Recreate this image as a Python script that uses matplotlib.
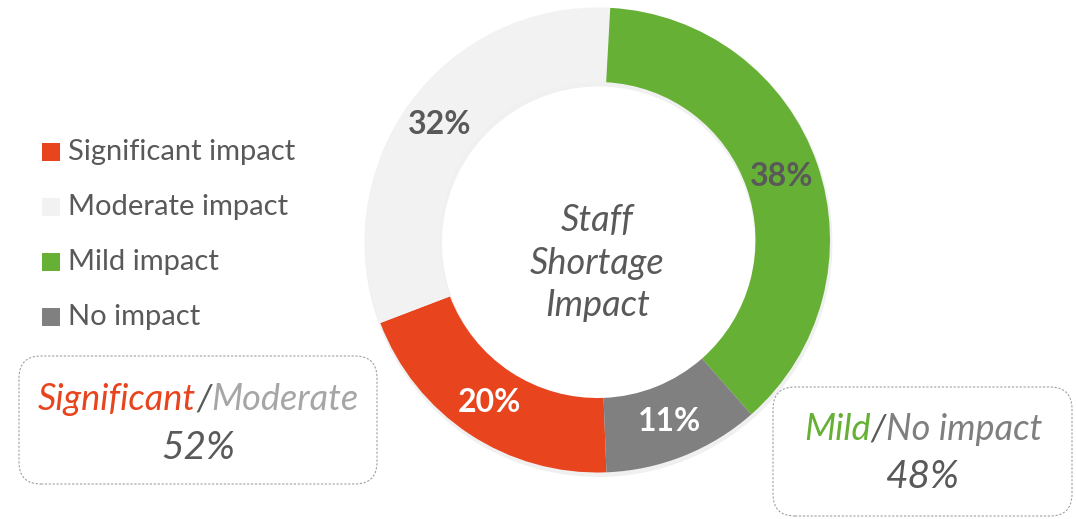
import matplotlib
matplotlib.use("Agg")
import matplotlib.pyplot as plt
from matplotlib.patches import FancyBboxPatch, Rectangle

categories = ["Significant impact", "Moderate impact", "Mild impact", "No impact"]
values = [20, 32, 38, 11]
colors = ["#E8441E", "#F2F2F2", "#66B035", "#808080"]
label_colors = ["white", "#595959", "#595959", "white"]
center_title = "Staff\nShortage\nImpact"
left_parts = [("Significant", "#E8441E"), ("/", "#595959"), ("Moderate", "#A6A6A6")]
left_total = "52%"
right_parts = [("Mild", "#66B035"), ("/", "#595959"), ("No impact", "#7F7F7F")]
right_total = "48%"

FONT = ["Lato", "DejaVu Sans"]
plt.rcParams["font.family"] = FONT
TXT = "#595959"

W, H = 1076, 519
fig = plt.figure(figsize=(W / 100, H / 100), dpi=100)
ax = fig.add_axes([0, 0, 1, 1])

cx, cy, R, Rin = 597.5, H - 240, 232.5, 158
# faint shadow
ax.pie(values, radius=R + 1.5, center=(cx + 1, cy - 3), startangle=90 - 177.8,
       counterclock=False, colors=["#000000"] * 4,
       wedgeprops=dict(width=R - Rin + 3, alpha=0.06, linewidth=0))
wedges, texts, autotexts = ax.pie(
    values, radius=R, center=(cx, cy), startangle=90 - 177.8, counterclock=False,
    colors=colors, wedgeprops=dict(width=R - Rin, linewidth=0),
    autopct=lambda p: f"{p:.0f}%", pctdistance=(R + Rin) / 2 / R,
    textprops=dict(fontsize=23, fontweight="bold"))
for t, c in zip(autotexts, label_colors):
    t.set_color(c)
ax.set_xlim(0, W)
ax.set_ylim(0, H)
ax.set_aspect("equal")
ax.axis("off")

ax.text(cx, H - 263, center_title, ha="center", va="center", fontsize=26,
        style="italic", color=TXT, linespacing=1.36)

# legend
leg_y = [152, 207, 262, 317]
for name, col, y in zip(categories, colors, leg_y):
    ax.add_patch(Rectangle((42, H - y - 9), 18, 18, facecolor=col, edgecolor="none"))
    ax.text(68, H - y, name, ha="left", va="center", fontsize=21, color=TXT)

# boxes
def box(x0, y0, x1, y1):
    ax.add_patch(FancyBboxPatch((x0, H - y1), x1 - x0, y1 - y0,
                                boxstyle="round,pad=0,rounding_size=22",
                                facecolor="white", edgecolor="#A0A0A0",
                                linewidth=0.8, linestyle=(0, (2, 1.5))))

box(19, 356, 377, 484)
box(773, 387, 1072, 516)

fig.canvas.draw()
renderer = fig.canvas.get_renderer()

def colored_line(parts, xc, y, size):
    ts = [ax.text(0, H - y, s, color=c, fontsize=size, style="italic",
                  ha="left", va="center") for s, c in parts]
    ws = [t.get_window_extent(renderer).width for t in ts]
    x = xc - sum(ws) / 2
    for t, w in zip(ts, ws):
        t.set_x(x)
        x += w

colored_line(left_parts, 198, 400, 26)
ax.text(198, H - 448, left_total, ha="center", va="center", fontsize=28,
        style="italic", color=TXT)
colored_line(right_parts, 923, 430, 26)
ax.text(923, H - 477, right_total, ha="center", va="center", fontsize=28,
        style="italic", color=TXT)

fig.savefig("out.png", dpi=100, facecolor="white")
